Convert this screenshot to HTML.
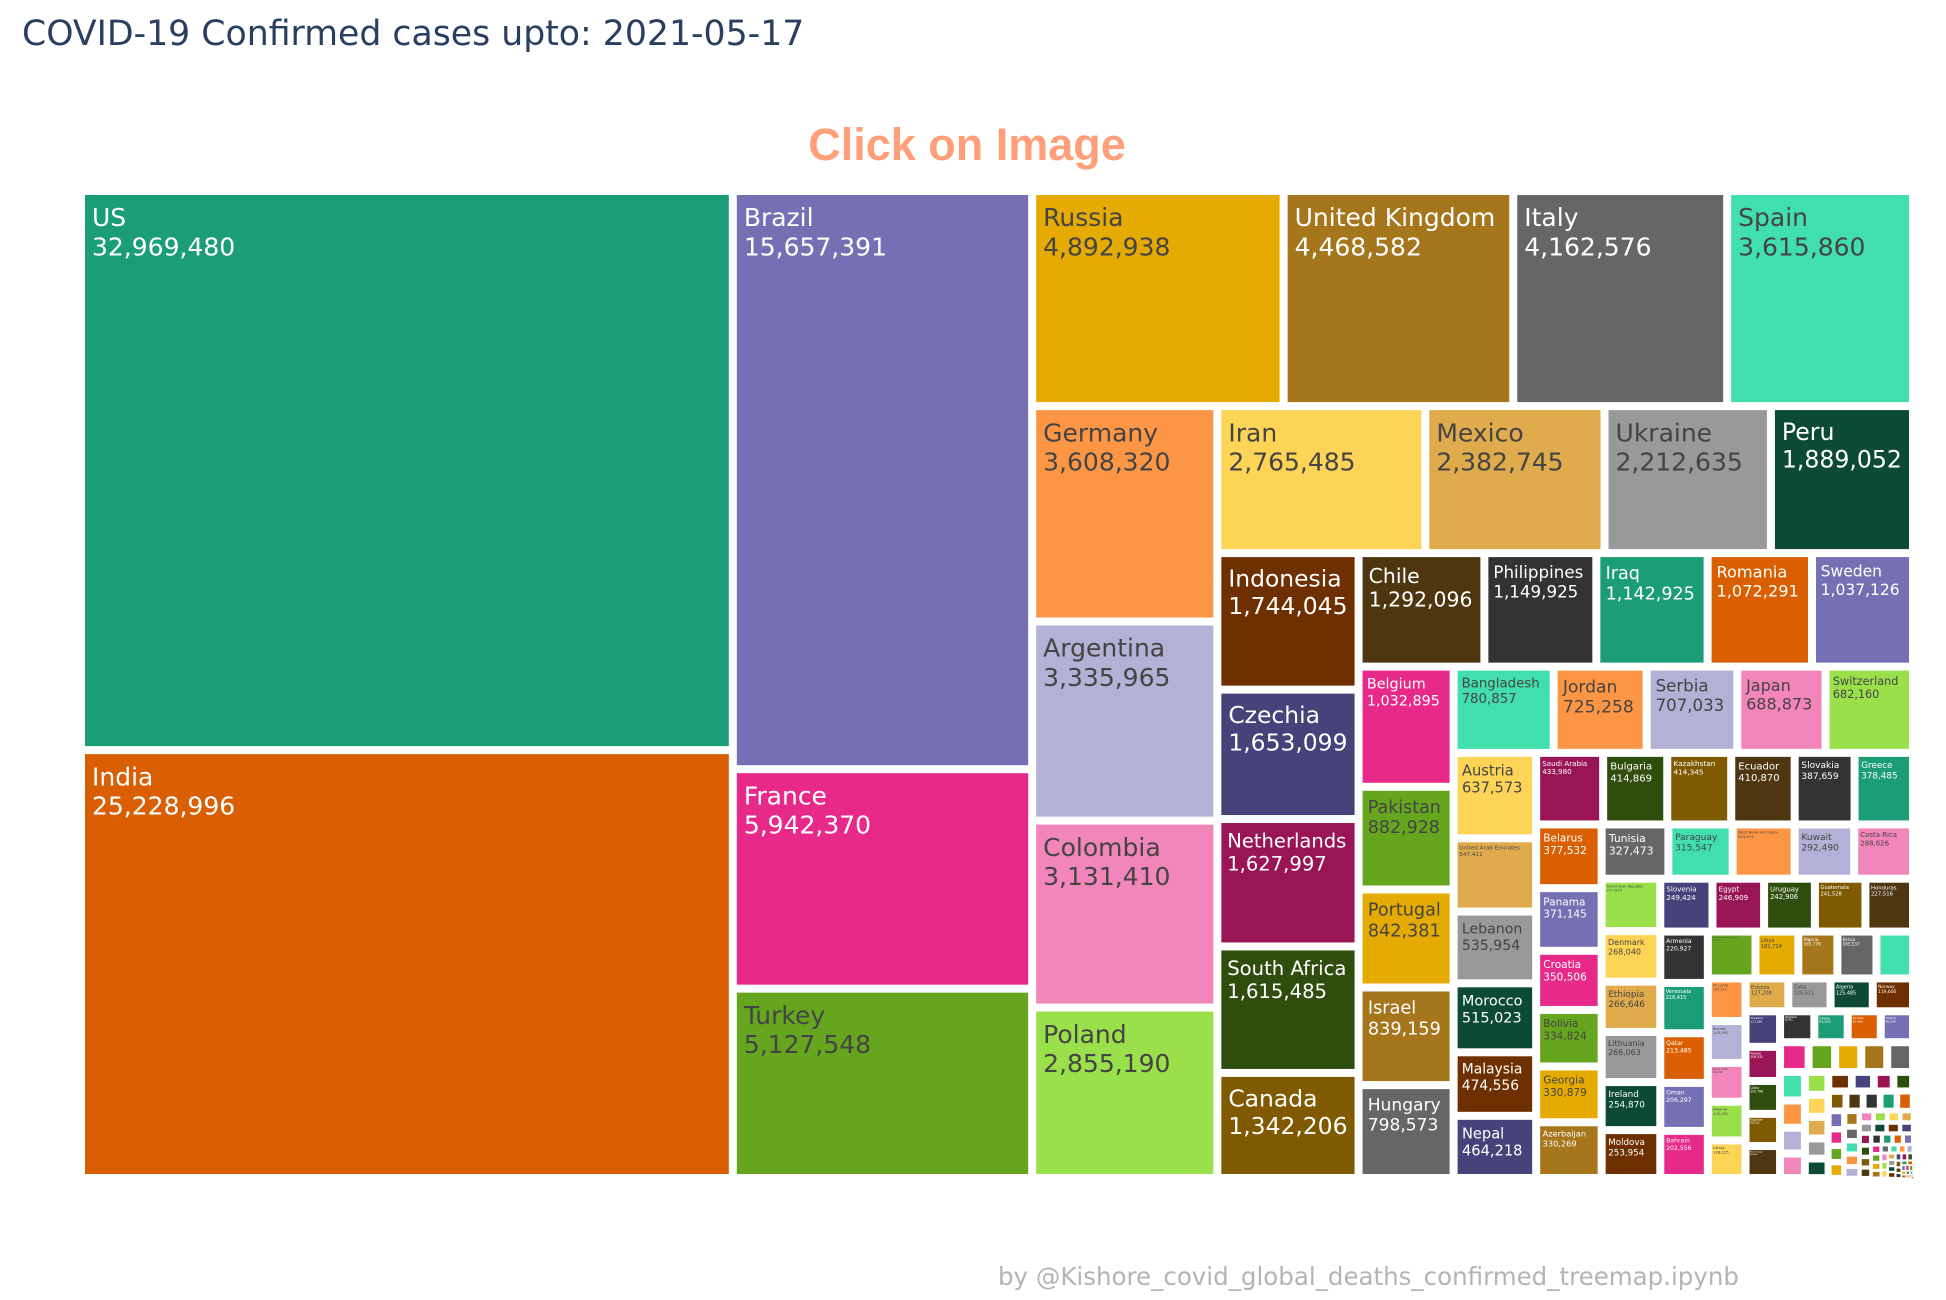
<!DOCTYPE html>
<html><head><meta charset="utf-8"><title>COVID-19 treemap</title>
<style>
html,body{margin:0;padding:0;background:#fff;}
svg{display:block;}
</style></head>
<body>
<svg id="chart" width="1946" height="1300" xmlns="http://www.w3.org/2000/svg">
<text x="22" y="45" font-family="DejaVu Sans, Verdana, sans-serif" font-size="34.7" fill="#2a3f5f">COVID-19 Confirmed cases upto: 2021-05-17</text>
<text x="967" y="160" text-anchor="middle" font-family="Liberation Sans, Arial, sans-serif" font-weight="bold" font-size="45" fill="#ffa07a">Click on Image</text>
<g id="tiles"></g>
<text x="998" y="1285" font-family="DejaVu Sans, Verdana, sans-serif" font-size="24.5" fill="#b4b4b4">by @Kishore_covid_global_deaths_confirmed_treemap.ipynb</text>
</svg>
<script>
const countries = ["US","India","Brazil","France","Turkey","Russia","United Kingdom","Italy","Spain","Germany",
"Argentina","Colombia","Poland","Iran","Mexico","Ukraine","Peru","Indonesia","Czechia","Netherlands",
"South Africa","Canada","Chile","Philippines","Iraq","Romania","Sweden","Belgium","Pakistan","Portugal",
"Israel","Hungary","Bangladesh","Jordan","Serbia","Japan","Switzerland","Austria","United Arab Emirates","Lebanon",
"Morocco","Malaysia","Nepal","Saudi Arabia","Bulgaria","Kazakhstan","Ecuador","Slovakia","Greece","Belarus",
"Panama","Croatia","Bolivia","Georgia","Azerbaijan","Tunisia","Paraguay","West Bank and Gaza","Kuwait","Costa Rica",
"Dominican Republic","Denmark","Ethiopia","Lithuania","Ireland","Moldova","Slovenia","Egypt","Uruguay","Guatemala",
"Honduras","Armenia","Venezuela","Qatar","Oman","Bahrain","Bosnia and Herzegovina","Libya","Nigeria","Kenya",
"North Macedonia","Sri Lanka","Burma","Korea, South","Albania","Latvia","Estonia","Cuba","Algeria","Norway",
"Thailand","Kosovo","China","Kyrgyzstan","Montenegro","Uzbekistan","Ghana","Zambia","Finland","Cameroon",
"Cyprus","El Salvador","Mozambique","Luxembourg","Afghanistan","Singapore","Botswana","Namibia","Jamaica","Cote d'Ivoire",
"Maldives","Uganda","Senegal","Madagascar","Zimbabwe","Malawi","Sudan","Angola","Malta","Congo (Kinshasa)",
"Australia","Cabo Verde","Rwanda","Syria","Gabon","Guinea","Cambodia","Mauritania","Eswatini","Trinidad and Tobago",
"Guyana","Somalia","Mali","Andorra","Burkina Faso","Togo","Haiti","Tajikistan","Belize","Papua New Guinea",
"Suriname","Djibouti","Congo (Brazzaville)","Bahamas","Lesotho","South Sudan","Seychelles","Benin","Equatorial Guinea","Central African Republic",
"Yemen","Iceland","Nicaragua","Gambia","Niger","Timor-Leste","San Marino","Chad","Saint Lucia","Burundi",
"Sierra Leone","Vietnam","Barbados","Eritrea","Comoros","Guinea-Bissau","Liechtenstein","New Zealand","Monaco","Sao Tome and Principe",
"Liberia","Saint Vincent and the Grenadines","Taiwan*","Laos","Mauritius","Antigua and Barbuda","Bhutan","Diamond Princess","Tanzania","Brunei",
"Fiji","Dominica","Grenada","Saint Kitts and Nevis","Holy See","Solomon Islands","MS Zaandam","Marshall Islands","Vanuatu","Samoa"];
const cases = [32969480,25228996,15657391,5942370,5127548,4892938,4468582,4162576,3615860,3608320,
3335965,3131410,2855190,2765485,2382745,2212635,1889052,1744045,1653099,1627997,
1615485,1342206,1292096,1149925,1142925,1072291,1037126,1032895,882928,842381,
839159,798573,780857,725258,707033,688873,682160,637573,547411,535954,
515023,474556,464218,433980,414869,414345,410870,387659,378485,377532,
371145,350506,334824,330879,330269,327473,315547,304074,292490,288626,
277819,268040,266646,266063,254870,253954,249424,246909,242906,241528,
227516,220927,216415,213485,206297,202556,202000,181714,165778,165537,
154900,145212,143097,132290,132032,128125,127208,125511,125485,119600,
111082,106531,102768,100532,99800,95863,93333,92460,90249,77000,
71475,70400,70000,69500,64000,61300,58000,55000,48600,46800,
46000,42900,41200,40800,38600,34200,34000,31400,30500,30400,
29950,28500,26100,23800,23300,22700,22100,19400,18400,17500,
15800,14700,14200,13600,13400,13300,13200,13300,12700,12500,
12300,11100,11000,10900,10800,10600,10300,8000,7700,7000,
6700,6500,6600,5900,5300,5100,5100,4900,4600,4400,
4100,4200,4000,3900,3800,3700,3000,2650,2450,2300,
2100,1950,1900,1700,1300,1250,1200,712,509,230,
200,180,161,45,27,20,9,4,4,3];
const palette = ["#1b9e77","#d95f02","#7570b3","#e7298a","#66a61e","#e6ab02","#a6761d","#666666",
"#40dfad","#fd9644","#b3b1d6","#f285ba","#9ae04b","#fdd455","#e0ab4c","#999999",
"#0c4a37","#6e3001","#46437b","#9a1556","#2f4e0e","#7f5a01","#4e3710","#333333"];

const X0=81,Y0=191,X1=1913,Y1=1178;
const svgNS="http://www.w3.org/2000/svg";
const g=document.getElementById('tiles');
const ctx=document.createElement('canvas').getContext('2d');
ctx.font='25px "DejaVu Sans"';

function squarify(vals,x0,y0,x1,y1){
  const out=new Array(vals.length);
  let value=vals.reduce((a,b)=>a+b,0), i0=0,i1=0,n=vals.length;
  while(i0<n){
    const dx=x1-x0, dy=y1-y0;
    let sumValue; do{sumValue=vals[i1++];}while(!sumValue&&i1<n);
    let minValue=sumValue,maxValue=sumValue;
    const alpha=Math.max(dy/dx,dx/dy)/(value*1);
    let beta=sumValue*sumValue*alpha;
    let minRatio=Math.max(maxValue/beta,beta/minValue);
    for(;i1<n;++i1){
      const nv=vals[i1]; sumValue+=nv;
      if(nv<minValue)minValue=nv; if(nv>maxValue)maxValue=nv;
      beta=sumValue*sumValue*alpha;
      const nr=Math.max(maxValue/beta,beta/minValue);
      if(nr>minRatio){sumValue-=nv;break;}
      minRatio=nr;
    }
    if(dx<dy){
      const ny=dy? y0+dy*sumValue/value : y1;
      let x=x0; const k=sumValue?(x1-x0)/sumValue:0;
      for(let i=i0;i<i1;i++){const w=vals[i]*k;out[i]=[x,y0,x+w,ny];x+=w;}
      y0=ny;
    } else {
      const nx=dx? x0+dx*sumValue/value : x1;
      let y=y0; const k=sumValue?(y1-y0)/sumValue:0;
      for(let i=i0;i<i1;i++){const h=vals[i]*k;out[i]=[x0,y,nx,y+h];y+=h;}
      x0=nx;
    }
    value-=sumValue; i0=i1;
  }
  return out;
}
function isLight(hex){const r=parseInt(hex.substr(1,2),16),gg=parseInt(hex.substr(3,2),16),b=parseInt(hex.substr(5,2),16);return (r*299+gg*587+b*114)/1000>=128;}
function fmt(v){return v.toLocaleString('en-US');}

const rects=squarify(cases,X0,Y0,X1,Y1);
rects.forEach((r,i)=>{
  const w=r[2]-r[0],h=r[3]-r[1];
  const ins=Math.min(4,w*0.2,h*0.2);
  const x=r[0]+ins,y=r[1]+ins,tw=w-2*ins,th=h-2*ins;
  const color=palette[i%palette.length];
  const grp=document.createElementNS(svgNS,'g');
  
  
  const rc=document.createElementNS(svgNS,'rect');
  rc.setAttribute('x',x);rc.setAttribute('y',y);rc.setAttribute('width',Math.max(tw,0.5));rc.setAttribute('height',Math.max(th,0.5));
  rc.setAttribute('fill',color);
  
  
  grp.appendChild(rc);
  const label=countries[i],val=fmt(cases[i]);
  const tW=Math.max(ctx.measureText(label).width,ctx.measureText(val).width);
  const pad=7;
  let fs=Math.min(25,25*(tw-2*pad)/tW,(th-6)/2.4);
  if(fs>=2){
    const txt=document.createElementNS(svgNS,'text');
    txt.setAttribute('font-family','DejaVu Sans, Verdana, sans-serif');
    txt.setAttribute('font-size',fs.toFixed(2));
    txt.setAttribute('fill',isLight(color)?'#444444':'#ffffff');
    
    
    const p=Math.min(pad,fs*0.3);
    const l1=document.createElementNS(svgNS,'tspan');
    l1.setAttribute('x',x+p);l1.setAttribute('y',y+p*0.6+fs*1.08);l1.textContent=label;
    const l2=document.createElementNS(svgNS,'tspan');
    l2.setAttribute('x',x+p);l2.setAttribute('y',y+p*0.6+fs*2.25);l2.textContent=val;
    txt.appendChild(l1);txt.appendChild(l2);
    grp.appendChild(txt);
  }
  g.appendChild(grp);
});
</script>
</body></html>
